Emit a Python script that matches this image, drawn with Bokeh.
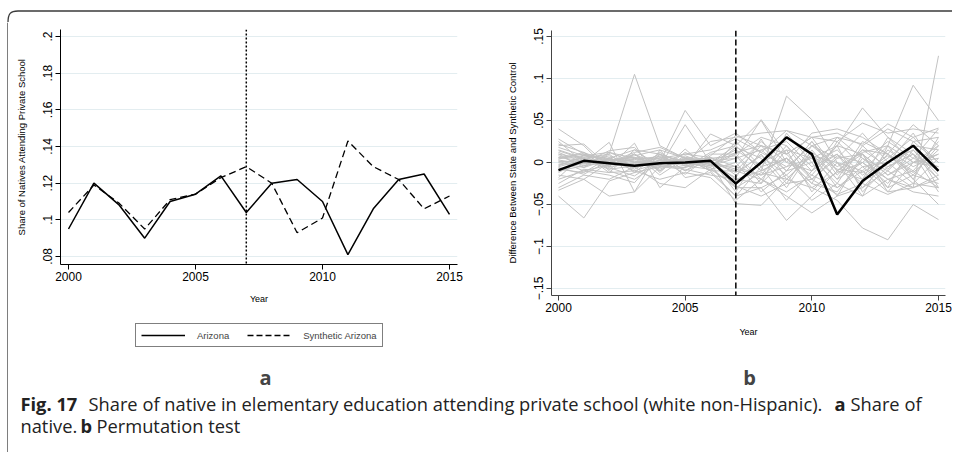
from bokeh.plotting import figure
from bokeh.models import FixedTicker, Legend, LegendItem, Label, Span, Range1d
from bokeh.layouts import row, column
from bokeh.embed import file_html
from bokeh.resources import INLINE

# ---------------- data ----------------
years = [2000, 2001, 2002, 2003, 2004, 2005, 2006, 2007,
         2008, 2009, 2010, 2011, 2012, 2013, 2014, 2015]
treat_year = 2007

arizona = [0.095, 0.120, 0.108, 0.090, 0.110, 0.114, 0.124, 0.104,
           0.120, 0.122, 0.110, 0.081, 0.106, 0.122, 0.125, 0.103]
synthetic_arizona = [0.104, 0.119, 0.109, 0.095, 0.111, 0.114, 0.123, 0.129,
                     0.120, 0.093, 0.101, 0.143, 0.129, 0.122, 0.106, 0.113]

arizona_gap = [-0.009, 0.002, -0.001, -0.004, -0.001, 0.000, 0.002, -0.025,
               0.000, 0.030, 0.010, -0.062, -0.022, 0.000, 0.020, -0.010]

placebo_gaps = [
    [0.040, 0.020, -0.010, -0.020, 0.000, 0.062, 0.020, 0.035, 0.012, 0.038, 0.020, 0.030, 0.022, 0.046, 0.030, 0.041],
    [-0.040, -0.066, -0.022, -0.012, -0.005, 0.000, -0.006, -0.030, -0.012, -0.020, -0.030, -0.012, 0.000, -0.020, -0.010, -0.030],
    [0.015, 0.005, 0.010, 0.105, 0.020, 0.005, 0.000, -0.010, 0.020, 0.010, -0.020, 0.005, 0.010, -0.015, 0.000, 0.020],
    [0.025, 0.000, 0.024, -0.035, -0.005, 0.045, 0.000, 0.020, 0.050, 0.000, 0.035, 0.040, 0.030, 0.010, 0.045, 0.020],
    [0.020, 0.022, -0.005, 0.023, -0.030, -0.005, 0.034, 0.020, -0.010, 0.079, 0.051, 0.000, -0.040, 0.020, 0.000, 0.005],
    [0.005, 0.008, 0.003, 0.006, 0.004, 0.002, -0.004, 0.010, -0.020, 0.015, 0.005, 0.020, 0.065, 0.030, 0.010, -0.020],
    [-0.010, -0.004, 0.002, -0.006, 0.003, 0.000, 0.006, -0.015, 0.010, -0.025, 0.020, -0.005, 0.012, 0.020, 0.092, 0.050],
    [0.010, 0.004, -0.002, 0.005, -0.002, 0.003, -0.004, 0.005, 0.015, -0.010, 0.025, -0.010, 0.010, -0.035, -0.030, 0.127],
    [0.000, -0.006, 0.004, 0.002, -0.006, 0.004, 0.002, -0.020, -0.010, 0.005, -0.030, -0.045, -0.078, -0.092, -0.050, -0.068],
    [-0.020, -0.010, -0.015, -0.024, 0.010, -0.010, 0.004, -0.030, -0.030, -0.069, -0.040, -0.010, -0.020, 0.010, -0.020, -0.050],
    [-0.033, -0.020, 0.000, 0.010, -0.015, 0.005, -0.010, -0.010, -0.020, -0.040, -0.060, -0.040, -0.030, -0.010, -0.030, -0.020],
    [0.012, 0.000, 0.008, -0.004, 0.006, -0.002, 0.000, -0.049, -0.051, -0.020, 0.010, -0.030, -0.010, -0.035, 0.000, 0.010],
    [0.006, 0.010, 0.000, 0.012, 0.018, 0.005, 0.002, 0.005, 0.051, 0.010, 0.030, 0.035, 0.020, 0.040, 0.025, 0.030],
    [-0.015, -0.020, -0.040, -0.035, 0.015, -0.018, -0.012, -0.040, -0.030, -0.015, -0.045, -0.025, -0.040, -0.020, -0.035, -0.040],
    [0.028, 0.010, 0.005, 0.015, 0.010, 0.000, 0.025, 0.030, 0.035, 0.038, 0.030, 0.025, 0.047, 0.035, 0.040, 0.035],
    [-0.005, 0.003, -0.008, 0.010, -0.010, 0.008, -0.003, 0.012, 0.020, -0.010, 0.000, 0.015, -0.015, 0.005, 0.030, 0.000],
    [0.003, -0.002, 0.005, -0.003, 0.002, -0.004, 0.001, -0.008, -0.015, 0.020, -0.020, 0.008, 0.000, -0.025, 0.015, -0.015],
    [-0.008, -0.012, 0.006, -0.008, 0.008, 0.002, -0.006, 0.018, 0.005, -0.030, 0.015, -0.020, 0.025, 0.010, -0.010, 0.025],
    [0.018, 0.008, 0.012, 0.005, 0.000, 0.010, 0.006, -0.005, 0.025, 0.000, -0.010, 0.030, 0.005, -0.010, 0.020, -0.030],
    [-0.012, 0.005, -0.005, 0.000, -0.004, -0.006, 0.003, -0.025, 0.000, 0.015, -0.035, 0.000, -0.025, 0.015, -0.005, 0.010],
    [0.008, -0.004, 0.010, -0.012, 0.012, -0.004, -0.008, 0.000, -0.035, -0.010, 0.025, -0.015, 0.015, -0.005, 0.010, -0.010],
    [-0.003, 0.006, -0.002, 0.004, -0.008, 0.006, 0.004, -0.035, 0.015, 0.025, -0.005, 0.010, -0.030, 0.000, -0.025, 0.005],
    [0.022, 0.012, 0.000, 0.008, 0.015, 0.005, -0.010, 0.025, -0.005, 0.030, 0.010, -0.020, 0.000, 0.025, 0.005, 0.040],
    [-0.025, -0.008, -0.012, -0.010, -0.020, -0.012, -0.018, -0.045, -0.020, -0.035, -0.015, -0.030, -0.005, -0.030, -0.015, -0.025],
    [0.001, 0.002, 0.000, -0.001, 0.002, 0.001, 0.000, 0.015, -0.005, 0.005, -0.015, 0.020, 0.010, -0.015, 0.005, -0.005],
    [-0.002, -0.001, 0.003, 0.001, -0.002, 0.003, 0.001, -0.012, 0.008, -0.015, 0.012, -0.008, -0.012, 0.008, -0.012, 0.015],
    [0.010, -0.006, 0.012, 0.000, 0.005, 0.010, 0.015, 0.028, 0.012, -0.005, 0.020, 0.005, 0.035, 0.000, 0.015, -0.020],
    [-0.018, 0.010, -0.012, 0.015, -0.005, -0.008, -0.015, -0.020, -0.025, 0.005, -0.025, -0.035, 0.005, -0.020, -0.030, -0.015],
    [0.004, 0.012, -0.008, -0.004, 0.010, -0.010, 0.010, 0.010, 0.030, 0.020, -0.010, 0.010, -0.020, 0.030, 0.000, -0.005],
    [-0.006, -0.014, 0.002, 0.006, -0.010, 0.012, -0.002, -0.005, -0.015, -0.005, 0.005, -0.025, 0.020, -0.008, 0.020, 0.015],
    [0.014, 0.004, -0.006, -0.016, 0.004, -0.014, 0.008, 0.032, 0.020, 0.010, 0.030, -0.010, 0.015, 0.010, -0.015, 0.020],
    [-0.010, 0.000, 0.014, 0.018, -0.012, 0.016, -0.010, -0.040, -0.005, -0.045, -0.010, 0.020, -0.035, -0.005, 0.010, -0.035],
    [0.002, -0.010, -0.003, 0.004, 0.007, -0.002, 0.005, 0.008, -0.025, 0.035, 0.000, -0.040, 0.010, -0.030, 0.025, 0.000],
    [-0.004, 0.008, 0.004, -0.010, 0.000, 0.004, -0.002, -0.018, 0.028, -0.020, 0.008, 0.000, -0.010, 0.020, -0.020, 0.030],
    [0.006, 0.002, -0.004, 0.010, -0.004, -0.006, 0.012, 0.020, -0.010, 0.005, -0.025, 0.025, -0.005, 0.000, 0.035, -0.010],
    [-0.030, -0.015, -0.020, -0.005, -0.025, -0.030, -0.008, -0.028, -0.040, -0.025, -0.020, -0.038, -0.025, -0.038, -0.025, -0.030],
]

x_ticks = [2000, 2005, 2010, 2015]
left_y_ticks = [0.08, 0.10, 0.12, 0.14, 0.16, 0.18, 0.20]
left_y_labels = [".08", ".1", ".12", ".14", ".16", ".18", ".2"]
right_y_ticks = [-0.15, -0.10, -0.05, 0.0, 0.05, 0.10, 0.15]
right_y_labels = ["\u2212.15", "\u2212.1", "\u2212.05", "0", ".05", ".1", ".15"]

left_y_title = "Share of Natives Attending Private School"
right_y_title = "Difference Between State and Synthetic Control"
x_title = "Year"
series_names = ["Arizona", "Synthetic Arizona"]
panel_tags = ["a", "b"]
caption_line1 = ["Fig. 17", "Share of native in elementary education attending private school (white non-Hispanic).", "a", "Share of"]
caption_line2 = ["native.", "b", "Permutation test"]

# ---------------- style ----------------
FONT = "Liberation Sans"
CAP_FONT = "Open Sans"
GRID = "#e3edf0"
FRAME = "#3a3a3a"


def style_axes(p, color, y_ticks, y_labels, y_title, x_standoff):
    for ax in (p.xaxis[0], p.yaxis[0]):
        ax.axis_line_color = color
        ax.axis_line_width = 1
        ax.major_tick_line_color = color
        ax.major_tick_in = 0
        ax.major_tick_out = 5
        ax.minor_tick_line_color = None
        ax.major_label_text_font = FONT
        ax.major_label_text_font_size = "12px"
        ax.major_label_text_color = "black"
        ax.axis_label_text_font = FONT
        ax.axis_label_text_font_style = "normal"
        ax.axis_label_text_color = "black"
    p.xaxis.ticker = FixedTicker(ticks=x_ticks)
    p.xaxis.major_label_standoff = 2
    p.xaxis.axis_label = x_title
    p.xaxis.axis_label_text_font_size = "9px"
    p.xaxis.axis_label_standoff = x_standoff
    p.yaxis.ticker = FixedTicker(ticks=y_ticks)
    p.yaxis.major_label_overrides = dict(zip(y_ticks, y_labels))
    p.yaxis.major_label_orientation = "vertical"
    p.yaxis.major_label_standoff = 3
    p.yaxis.axis_label = y_title
    p.yaxis.axis_label_text_font_size = "9.5px"
    p.yaxis.axis_label_standoff = 14
    p.xgrid.visible = False
    p.ygrid.ticker = FixedTicker(ticks=y_ticks)
    p.ygrid.grid_line_color = GRID
    p.ygrid.grid_line_width = 1
    p.outline_line_color = None
    p.background_fill_color = "white"
    p.border_fill_color = "white"


def blank(width, height, xr, yr):
    f = figure(width=width, height=height, x_range=Range1d(*xr), y_range=Range1d(*yr),
               min_border=0, x_axis_type=None, y_axis_type=None,
               output_backend="svg", toolbar_location=None)
    f.outline_line_color = None
    f.grid.visible = False
    f.background_fill_color = "white"
    f.border_fill_color = "white"
    return f


# ---------------- page frame (rounded top-left corner) ----------------
top_strip = blank(952, 22, (0, 952), (22, 0))
top_strip.segment(x0=17.5, y0=10.5, x1=952, y1=10.5, line_color=FRAME, line_width=1.3)
top_strip.bezier(x0=7.5, y0=22, x1=17.5, y1=10.5, cx0=7.5, cy0=13, cx1=10, cy1=10.5,
                 line_color=FRAME, line_width=1.3)
left_strip = blank(8, 430, (0, 8), (0, 430))
left_strip.segment(x0=7.5, y0=0, x1=7.5, y1=430, line_color=FRAME, line_width=1.3)

# ---------------- panel a ----------------
p1 = figure(width=470, height=288,
            x_range=Range1d(1999.685, 2015.315), y_range=Range1d(0.07564, 0.20382),
            min_border_left=52, min_border_right=21, min_border_top=7, min_border_bottom=46,
            output_backend="svg", toolbar_location=None)
style_axes(p1, "black", left_y_ticks, left_y_labels, left_y_title, 10)
p1.add_layout(Span(location=treat_year, dimension="height", line_color="black",
                   line_width=1.5, line_dash="2 2"))
p1.line(years, synthetic_arizona, line_color="black", line_width=1.3, line_dash="7 4")
p1.line(years, arizona, line_color="black", line_width=1.5)

# legend strip below panel a (its frame is aligned with panel a's frame);
# the series are re-drawn here only to feed the legend: they fall outside this strip's range
f1 = blank(470, 82, (0, 397), (0, 82))
lg_az = f1.line(years, arizona, line_color="black", line_width=1.5)
lg_syn = f1.line(years, synthetic_arizona, line_color="black", line_width=1.3, line_dash="6 3")
legend = Legend(items=[LegendItem(label=series_names[0], renderers=[lg_az]),
                       LegendItem(label=series_names[1], renderers=[lg_syn])],
                location=(75, 45), orientation="horizontal",
                border_line_color="black", border_line_width=1,
                background_fill_color="white", background_fill_alpha=1,
                label_text_font=FONT, label_text_font_size="9.5px",
                glyph_width=44, glyph_height=12, label_standoff=12,
                spacing=18, padding=5, margin=0)
f1.add_layout(legend)
f1.add_layout(Label(x=205, y=15, x_units="screen", y_units="screen", text=panel_tags[0],
                    text_font=CAP_FONT, text_font_style="bold", text_font_size="20px",
                    text_align="center", text_baseline="middle"))

# ---------------- panel b ----------------
p2 = figure(width=474, height=323,
            x_range=Range1d(1999.7237, 2015.2763), y_range=Range1d(-0.15833, 0.15714),
            min_border_left=73, min_border_right=7, min_border_top=8, min_border_bottom=50,
            output_backend="svg", toolbar_location=None)
style_axes(p2, "#444444", right_y_ticks, right_y_labels, right_y_title, 12)
p2.multi_line(xs=[years] * len(placebo_gaps), ys=placebo_gaps,
              line_color="#c2c2c2", line_width=1)
p2.line(years, arizona_gap, line_color="black", line_width=2.5)
p2.add_layout(Span(location=treat_year, dimension="height", line_color="black",
                   line_width=1.5, line_dash="6 3"))

f2 = blank(474, 47, (0, 394), (0, 47))
f2.add_layout(Label(x=198, y=15, x_units="screen", y_units="screen", text=panel_tags[1],
                    text_font=CAP_FONT, text_font_style="bold", text_font_size="20px",
                    text_align="center", text_baseline="middle"))

# ---------------- caption ----------------
cap = blank(944, 60, (0, 944), (0, 60))
cap_size = "18.3px"
line1_x = [12, 80, 826, 842]
line1_bold = [True, False, True, False]
for txt, xx, b in zip(caption_line1, line1_x, line1_bold):
    cap.add_layout(Label(x=xx, y=49, text=txt, text_font=CAP_FONT, text_font_size=cap_size,
                         text_font_style="bold" if b else "normal", text_color="#222222",
                         text_baseline="middle", text_align="left"))
line2_x = [12, 72, 88]
line2_bold = [False, True, False]
for txt, xx, b in zip(caption_line2, line2_x, line2_bold):
    cap.add_layout(Label(x=xx, y=27, text=txt, text_font=CAP_FONT, text_font_size=cap_size,
                         text_font_style="bold" if b else "normal", text_color="#222222",
                         text_baseline="middle", text_align="left"))

layout = column(
    top_strip,
    row(left_strip,
        column(row(column(p1, f1), column(p2, f2)), cap)),
)

with open("out.html", "w") as f:
    f.write(file_html(layout, INLINE))
